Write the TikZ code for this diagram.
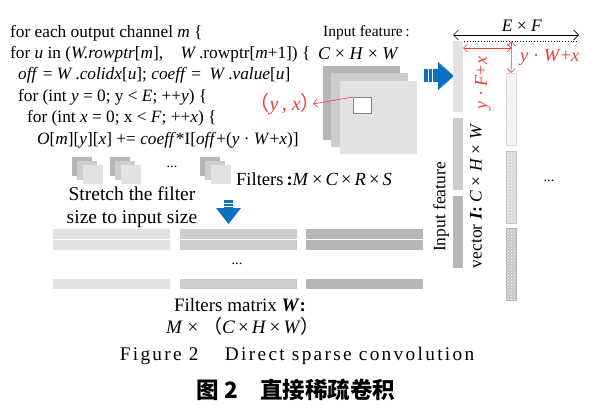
\documentclass[tikz,border=0pt]{standalone}
\usepackage{fontspec}
\setmainfont{Liberation Serif}
\newfontfamily\cjkfont{Noto Sans CJK SC}
\newfontfamily\capfont{Liberation Serif}[LetterSpace=12]
\usepackage{tikz}
\usetikzlibrary{arrows.meta,positioning,patterns}
\definecolor{RedMark}{HTML}{F03C3C}
\definecolor{ArrowBlue}{HTML}{0A72BE}
\definecolor{GrayA}{HTML}{E2E2E2}
\definecolor{GrayB}{HTML}{CDCDCD}
\definecolor{GrayC}{HTML}{B6B6B6}
\definecolor{GrayD}{HTML}{F1F1F1}

\begin{document}
\begin{tikzpicture}[
    x=1pt, y=-1pt,
    every node/.style={font=\fontsize{17.5}{20}\selectfont, inner sep=0pt},
    codeline/.style={anchor=west, font=\fontsize{17.3}{20}\selectfont},
    redlabel/.style={text=RedMark},
    vbar/.style={minimum width=10, anchor=north west},
    hbar/.style={minimum height=9.5, anchor=north west},
    dotbar/.style={preaction={fill=#1}, pattern=crosshatch dots, pattern color=white, draw=#1!80!gray, line width=0.3pt, minimum width=10, minimum height=72, anchor=north west},
    redarrow/.style={draw=RedMark, line width=0.6pt, {Straight Barb[length=4pt]}-{Straight Barb[length=4pt]}},
    bigtext/.style={font=\fontsize{19}{22}\selectfont}
]
\useasboundingbox (0,0) rectangle (600,409);

\node[codeline] (l1) at (10,33) {for each output channel \textit{m} \{};
\node[codeline] (l2) at (10,54) {for \textit{u} in (\textit{W.rowptr}[\textit{m}],\quad \textit{W}\,.rowptr[\textit{m}+1]) \{};
\node[codeline] (l3) at (18,75) {\textit{off} = \textit{W}\,.\textit{colidx}[\textit{u}]; \textit{coeff} = \ \textit{W}\,.\textit{value}[\textit{u}]};
\node[codeline] (l4) at (18,97) {for (int \textit{y} = 0; y < \textit{E}; ++\textit{y}) \{};
\node[codeline] (l5) at (27,118) {for (int \textit{x} = 0; x < \textit{F}; ++\textit{x}) \{};
\node[codeline] (l6) at (37,140) {\textit{O}[\textit{m}][\textit{y}][\textit{x}] += \textit{coeff}*I[\textit{off}+(\textit{y} · \textit{W}+\textit{x})]};

\node[anchor=west, font=\fontsize{15.5}{18}\selectfont] (inlab) at (323,33) {Input feature\,:};
\node[anchor=west, font=\fontsize{18}{20}\selectfont] (indim) at (318,54) {\textit{C} × \textit{H} × \textit{W}};

\fill[GrayC] (323,66) rectangle (400,140);
\fill[GrayB] (331,73) rectangle (408,147);
\fill[GrayA] (340,81) rectangle (417,154);
\node[draw=gray, fill=white, line width=0.6pt, minimum width=18, minimum height=16, anchor=north west] (sq) at (353,97) {};
\node[redlabel, anchor=east, font=\fontsize{20}{22}\selectfont] (yx) at (321,104) {{\cjkfont （}\textit{y}\,, \textit{x}{\cjkfont ）}};
\draw[RedMark, line width=0.6pt, -{Straight Barb[length=4pt]}] (sq.north west) -- ([xshift=-8pt]yx.east);

\fill[ArrowBlue] (424,69) rectangle (427.5,82);
\fill[ArrowBlue] (428.5,69) rectangle (432,82);
\fill[ArrowBlue] (433,69) -- (438,69) -- (438,62) -- (454,76) -- (438,90) -- (438,82) -- (433,82) -- cycle;

\coordinate (efl) at (453,35);
\coordinate (efr) at (579,35);
\draw[line width=0.6pt, {Straight Barb[length=5pt]}-{Straight Barb[length=5pt]}] (efl) -- node[above=3pt, xshift=6pt] (eflab) {\textit{E} × \textit{F}} (efr);
\draw[dotted, line width=0.8pt] (453,41) -- (579,41);

\node[vbar, fill=GrayA, minimum height=71] (ib1) at (453,41) {};
\node[vbar, fill=GrayB, minimum height=72] (ib2) at (453,118) {};
\node[vbar, fill=GrayC, minimum height=72] (ib3) at (453,196) {};

\node[dotbar=GrayD] (db1) at (506,73) {};
\node[dotbar=GrayA!90!gray] (db2) at (506,151) {};
\node[dotbar=GrayB!90!gray] (db3) at (506,228) {};
\node[font=\fontsize{14.5}{17}\selectfont] (ddots) at (549,181) {...};

\coordinate (hl) at (463,48);
\coordinate (hr) at (511.5,48);
\coordinate (vt) at (511.5,41.5);
\draw[redarrow] (hl) -- (hr);
\draw[redarrow] (vt) -- (db1.north);
\node[redlabel, anchor=west, font=\fontsize{18.5}{20}\selectfont] (ywx) at (520,57) {\textit{y} · \textit{W}+\textit{x}};
\node[redlabel, rotate=90, font=\fontsize{18}{20}\selectfont] (yfx) at (483,83) {\textit{y} · \textit{F}+\textit{x}};

\node[rotate=90] (ivec1) at (441,207) {Input feature};
\node[rotate=90] (ivec2) at (476,196) {vector \textbf{\textit{I}}\textbf{:} \textit{C} × \textit{H} × \textit{W}};

\foreach \sx/\nm in {72/fa, 110/fb, 200/fc} {
    \fill[GrayC] (\sx,157) rectangle ++(20,19);
    \fill[GrayB] (\sx+5,161) rectangle ++(20,19);
    \fill[GrayA] (\sx+11,165) rectangle ++(20,19);
    \coordinate (\nm) at (\sx,157);
}
\node[font=\fontsize{14.5}{17}\selectfont] (fdots) at (172,167) {...};
\node[anchor=west, font=\fontsize{18.5}{22}\selectfont] (flab) at (236,179) {Filters\,\textbf{:}\textit{M}\,×\,\textit{C}\,×\,\textit{R}\,×\,\textit{S}};
\node[align=center, font=\fontsize{19.5}{22.5}\selectfont] (stretch) at (132,207) {Stretch the filter\\size to input size};

\fill[ArrowBlue] (224,200) rectangle (233,202.5);
\fill[ArrowBlue] (224,203.5) rectangle (233,206);
\fill[ArrowBlue] (224,207) -- (233,207) -- (233,208) -- (241,208) -- (228.5,224) -- (216,208) -- (224,208) -- cycle;

\foreach \cx/\cl in {53/GrayA, 180/GrayB, 306/GrayC} {
    \node[hbar, fill=\cl, minimum width=117] at (\cx,229) {};
    \node[hbar, fill=\cl, minimum width=117] at (\cx,240) {};
    \node[hbar, fill=\cl, minimum width=117] at (\cx,279) {};
}
\node[font=\fontsize{14.5}{17}\selectfont] (mdots) at (237,264) {...};

\node[bigtext] (wlab) at (240,305) {Filters matrix \textbf{\textit{W}}\textbf{:}};
\node[bigtext] (wdim) at (243,326) {\textit{M} × {\cjkfont （}\textit{C}\,×\,\textit{H}\,×\,\textit{W}{\cjkfont ）}};

\node[font=\fontsize{19.3}{22}\selectfont\capfont] (capen) at (297,356) {Figure 2\quad\ Direct sparse convolution};
\node[font=\fontsize{22.5}{25}\selectfont\cjkfont\bfseries] (capzh) at (296,390) {图 2\quad 直接稀疏卷积};
\end{tikzpicture}
\end{document}
